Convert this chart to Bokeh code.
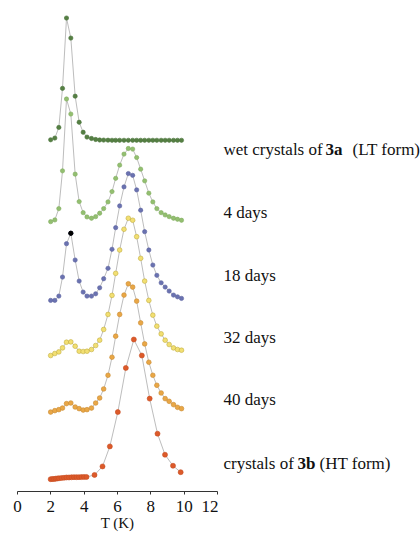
import numpy as np
from bokeh.plotting import figure
from bokeh.layouts import row
from bokeh.models import Label, FixedTicker, Range1d
from bokeh.embed import file_html
from bokeh.resources import INLINE

# Temperature grid (K) shared by the first five curves
temps = [1.99, 2.24, 2.48, 2.70, 2.94, 3.20, 3.46, 3.70, 3.94, 4.17, 4.44,
         4.69, 4.93, 5.17, 5.43, 5.67, 5.89, 6.13, 6.39, 6.65, 6.91, 7.15,
         7.39, 7.63, 7.88, 8.12, 8.36, 8.62, 8.86, 9.10, 9.36, 9.60, 9.84]

# Signal (arbitrary units) for each sample
wet_3a = [0.5, 2.2, 12.8, 51.8, 122.0, 102.0, 44.0, 18.0, 8.0, 3.2, 1.8,
          0.8, 0.3, 0.2, 0.1, 0, 0, 0, 0, 0, 0, 0,
          0, 0, 0, 0, 0, 0, 0, 0, 0, 0, 0]
days_4 = [0.3, 2.0, 13.3, 51.0, 122.7, 107.7, 47.7, 20.3, 9.3, 5.0, 3.7,
          5.3, 8.7, 13.3, 20.0, 30.3, 43.5, 56.7, 67.7, 73.3, 72.7, 64.3,
          52.7, 41.0, 28.7, 20.0, 13.3, 9.3, 7.0, 5.3, 3.7, 2.7, 1.7]
days_18 = [0.2, 0.2, 4.5, 23.5, 56.8, 67.2, 40.5, 19.5, 8.5, 4.5, 4.5,
           6.8, 12.8, 21.8, 32.2, 51.2, 72.8, 94.5, 113.5, 126.8, 125.0, 110.5,
           90.2, 68.8, 50.5, 35.5, 25.2, 17.8, 13.5, 9.5, 5.5, 3.8, 2.2]
days_32 = [0.7, 2.7, 4.3, 8.3, 14.0, 14.3, 10.0, 5.0, 4.7, 5.0, 6.7,
           10.7, 16.0, 26.7, 41.7, 60.7, 82.7, 106.0, 126.7, 137.7, 135.7, 119.3,
           97.7, 75.0, 55.7, 41.0, 30.0, 22.3, 16.0, 11.7, 8.3, 6.7, 6.0]
days_40 = [0.8, 2.2, 3.2, 4.8, 9.2, 9.8, 5.8, 4.2, 2.8, 3.2, 4.8,
           9.8, 14.8, 23.8, 37.5, 55.5, 76.5, 98.2, 117.5, 128.8, 125.5, 111.5,
           89.8, 68.8, 50.5, 37.5, 27.5, 19.8, 14.2, 11.5, 8.2, 5.5, 4.2]

# HT form crystals use their own temperature grid
temps_3b = [1.99, 2.09, 2.19, 2.29, 2.39, 2.49, 2.64, 2.79, 2.94, 3.09, 3.24,
            3.39, 3.54, 3.69, 3.84, 3.99, 4.14, 4.62, 5.10, 5.54, 6.02, 6.50,
            6.98, 7.46, 7.93, 8.40, 8.85, 9.33, 9.79]
crystals_3b = [0.3, 0.5, 0.5, 0.8, 1.0, 1.2, 1.5, 1.7, 2.0, 2.0, 2.2,
               2.3, 2.3, 2.3, 2.4, 2.5, 2.5, 4.5, 13.0, 33.0, 67.3, 111.3,
               139.7, 123.7, 80.7, 45.7, 24.7, 13.7, 7.3]

x_ticks = [0, 2, 4, 6, 8, 10, 12]

# vertical stacking offset of each trace
stack_offsets = [350.5, 269.0, 190.5, 135.0, 78.5, 12.0]

series = [
    (temps, wet_3a, "#557f43", "#4a733a", 4.3),
    (temps, days_4, "#93bf70", "#82ad60", 4.3),
    (temps, days_18, "#6a72b0", "#5a62a0", 4.3),
    (temps, days_32, "#f2df72", "#c2ae40", 4.7),
    (temps, days_40, "#e9a746", "#c98a30", 4.7),
    (temps_3b, crystals_3b, "#dc5a2a", "#c84e22", 5),
]
highlight_index = 5  # black point on the 18-day curve

LEFT_W = 218
p = figure(width=LEFT_W, height=533, x_range=Range1d(0, 12), y_range=Range1d(0, 490),
           output_backend="svg", toolbar_location=None,
           min_border_left=17, min_border_right=1, min_border_top=0, min_border_bottom=0)
p.yaxis.visible = False
p.grid.visible = False
p.outline_line_color = None

ax = p.xaxis[0]
ax.ticker = FixedTicker(ticks=x_ticks)
ax.axis_label = "T (K)"
ax.axis_label_text_font = "Liberation Serif"
ax.axis_label_text_font_size = "15px"
ax.axis_label_text_font_style = "normal"
ax.axis_label_text_color = "#111111"
ax.axis_label_standoff = 0
ax.major_label_text_font = "Liberation Serif"
ax.major_label_text_font_size = "17px"
ax.major_label_text_color = "#111111"
ax.major_label_standoff = 6
ax.major_tick_in = 0
ax.major_tick_out = 3
ax.minor_tick_in = 0
ax.minor_tick_out = 0
ax.axis_line_color = "#333333"
ax.major_tick_line_color = "#333333"

for (tx, vals, fill, edge, size), off in zip(series, stack_offsets):
    y = np.array(vals) + off
    p.line(tx, y, line_color="#bdbdbd", line_width=1)
    p.scatter(tx, y, size=size, fill_color=fill, line_color=edge, line_width=0.6)

hx = temps[highlight_index]
hy = days_18[highlight_index] + stack_offsets[2]
p.scatter([hx], [hy], size=4.3, fill_color="black", line_color="black")

# text panel on the right; it shares the vertical scale of the plot frame
RIGHT_W = 420 - LEFT_W
t = figure(width=RIGHT_W, height=533, x_range=Range1d(0, RIGHT_W), y_range=p.y_range,
           output_backend="svg", toolbar_location=None,
           min_border_left=0, min_border_right=0, min_border_top=0, min_border_bottom=0)
t.axis.visible = False
t.grid.visible = False
t.outline_line_color = None

font = "Liberation Serif"
fs = "17px"
label_specs = [
    ("wet crystals of", 223, 149, "normal"),
    ("3a", 325, 149, "bold"),
    ("(LT form)", 352, 149, "normal"),
    ("4 days", 223, 212, "normal"),
    ("18 days", 223, 274, "normal"),
    ("32 days", 223, 336, "normal"),
    ("40 days", 223, 398, "normal"),
    ("crystals of", 223, 462, "normal"),
    ("3b", 297, 462, "bold"),
    ("(HT form)", 319, 462, "normal"),
]
for txt, px, py, style in label_specs:
    t.add_layout(Label(x=px - LEFT_W, y=490 - py, text=txt, text_font=font, text_font_size=fs,
                       text_font_style=style, text_color="#111111",
                       text_baseline="middle", text_align="left"))

layout = row(p, t)
open("out.html", "w").write(file_html(layout, INLINE))
